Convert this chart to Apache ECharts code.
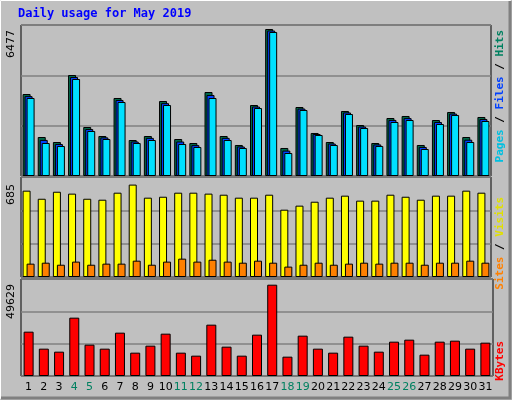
<!DOCTYPE html>
<html><head><meta charset="utf-8">
<script src="https://cdn.jsdelivr.net/npm/echarts@6/dist/echarts.min.js"></script>
<style>html,body{margin:0;padding:0;background:#c0c0c0}#c{width:512px;height:400px}</style>
</head><body><div id="c"></div>
<script>
const days = ['1','2','3','4','5','6','7','8','9','10','11','12','13','14','15','16','17','18','19','20','21','22','23','24','25','26','27','28','29','30','31'];
const weekend = ['4','5','11','12','18','19','25','26'];
const hits = [3613,1718,1498,4450,2159,1762,3437,1586,1762,3304,1630,1454,3701,1762,1366,3128,6477,1234,3040,1895,1498,2864,2247,1454,2555,2644,1366,2467,2820,1718,2600];
const files = [3520,1590,1410,4360,2070,1700,3350,1520,1680,3210,1520,1360,3570,1680,1300,3060,6410,1120,2970,1850,1430,2800,2180,1390,2470,2550,1280,2380,2750,1600,2510];
const pages = [3437,1454,1322,4274,1983,1630,3260,1454,1586,3128,1410,1278,3437,1586,1234,2996,6345,1013,2908,1806,1366,2732,2115,1322,2379,2467,1190,2291,2688,1498,2423];
const visits = [640,580,632,618,580,573,625,685,588,595,625,625,618,610,588,588,610,499,529,558,588,603,566,566,610,595,573,603,603,640,625];
const sites = [99,106,91,114,91,99,99,121,91,114,136,114,128,114,106,121,106,77,91,106,91,99,106,99,106,106,91,106,106,121,106];
const kbytes = [24100,14858,13228,31710,17033,14858,23556,12684,16489,23012,12684,11053,27905,15946,11053,22469,49629,10510,21925,14858,12684,21382,16489,13228,18664,19751,11597,18664,19207,14858,18120];

const maxHits = Math.max(...hits), maxVisits = Math.max(...visits), maxK = Math.max(...kbytes);
const topMax = maxHits*151/147, midMax = maxVisits*100/92.4, botMax = maxK*97/91.3;
const chart = echarts.init(document.getElementById('c'));
const grids = [
  {left:21, top:25, width:470, height:151},
  {left:21, top:177, width:470, height:100},
  {left:21, top:279, width:472, height:97}
].map(g=>Object.assign(g,{show:true,backgroundColor:'#c0c0c0',borderColor:'#000',borderWidth:1}));
const xAx = [0,1,2].map(i=>({type:'category',gridIndex:i,data:days,boundaryGap:true,
  axisLine:{show:false},axisTick:{show:false},
  axisLabel:{show:i===2,interval:0,margin:6,fontFamily:'DejaVu Sans',fontSize:11,
    color:(v)=>weekend.includes(v)?'#008060':'#000'}}));
const mk = (i,max)=>({type:'value',gridIndex:i,min:0,max:max,interval:max/3,
  axisLabel:{show:false},axisLine:{show:false},axisTick:{show:false},
  splitLine:{show:true,lineStyle:{color:'#808080',width:1.5}}});
const yAx=[mk(0,topMax),mk(1,midMax),mk(2,botMax)];
const bs = (c)=>({color:c,borderColor:'#000',borderWidth:1});
chart.setOption({
  animation:false,
  backgroundColor:'#c0c0c0',
  grid:grids, xAxis:xAx, yAxis:yAx,
  series:[
    {type:'bar',xAxisIndex:0,yAxisIndex:0,data:hits,barWidth:8,barGap:'-75%',itemStyle:bs('#006a4a')},
    {type:'bar',xAxisIndex:0,yAxisIndex:0,data:files,barWidth:8,barGap:'-75%',itemStyle:bs('#0040ff')},
    {type:'bar',xAxisIndex:0,yAxisIndex:0,data:pages,barWidth:8,barGap:'-75%',itemStyle:bs('#00e0ff')},
    {type:'bar',xAxisIndex:1,yAxisIndex:1,data:visits,barWidth:8,barGap:'-50%',itemStyle:bs('#ffff00')},
    {type:'bar',xAxisIndex:1,yAxisIndex:1,data:sites,barWidth:8,barGap:'-50%',itemStyle:bs('#ff8000')},
    {type:'bar',xAxisIndex:2,yAxisIndex:2,data:kbytes,barWidth:10,itemStyle:bs('#ff0000')}
  ],
  graphic:[
    {type:'rect',shape:{x:0.5,y:0.5,width:510,height:398},style:{fill:null,stroke:'#ffffff',lineWidth:1}},
    {type:'polyline',shape:{points:[[510,1],[510,398],[1,398]]},style:{stroke:'#808080',lineWidth:3,fill:null}},
    {type:'text',left:18,top:8,style:{text:'Daily usage for May 2019',fill:'#0000ff',font:'bold 12px "DejaVu Sans Mono"'}},
    {type:'text',x:11,y:30,rotation:Math.PI/2,style:{text:String(maxHits),fill:'#000',font:'11px "DejaVu Sans"',align:'right',verticalAlign:'middle'}},
    {type:'text',x:11,y:184,rotation:Math.PI/2,style:{text:String(maxVisits),fill:'#000',font:'11px "DejaVu Sans"',align:'right',verticalAlign:'middle'}},
    {type:'text',x:11,y:284,rotation:Math.PI/2,style:{text:String(maxK),fill:'#000',font:'11px "DejaVu Sans"',align:'right',verticalAlign:'middle'}},
    {type:'text',x:500,y:30,rotation:Math.PI/2,style:{text:'{a|Pages}{s| / }{b|Files}{s| / }{c|Hits}',align:'right',verticalAlign:'middle',
      rich:{a:{fill:'#00c0e0',font:'bold 11px "DejaVu Sans Mono"'},b:{fill:'#0040ff',font:'bold 11px "DejaVu Sans Mono"'},c:{fill:'#008060',font:'bold 11px "DejaVu Sans Mono"'},s:{fill:'#000',font:'bold 11px "DejaVu Sans Mono"'}}}},
    {type:'text',x:500,y:197,rotation:Math.PI/2,style:{text:'{a|Sites}{s| / }{b|Visits}',align:'right',verticalAlign:'middle',
      rich:{a:{fill:'#ff8000',font:'bold 11px "DejaVu Sans Mono"'},b:{fill:'#e0e000',font:'bold 11px "DejaVu Sans Mono"'},s:{fill:'#000',font:'bold 11px "DejaVu Sans Mono"'}}}},
    {type:'text',x:500,y:341,rotation:Math.PI/2,style:{text:'KBytes',fill:'#ff0000',font:'bold 11px "DejaVu Sans Mono"',align:'right',verticalAlign:'middle'}}
  ]
});
</script></body></html>
